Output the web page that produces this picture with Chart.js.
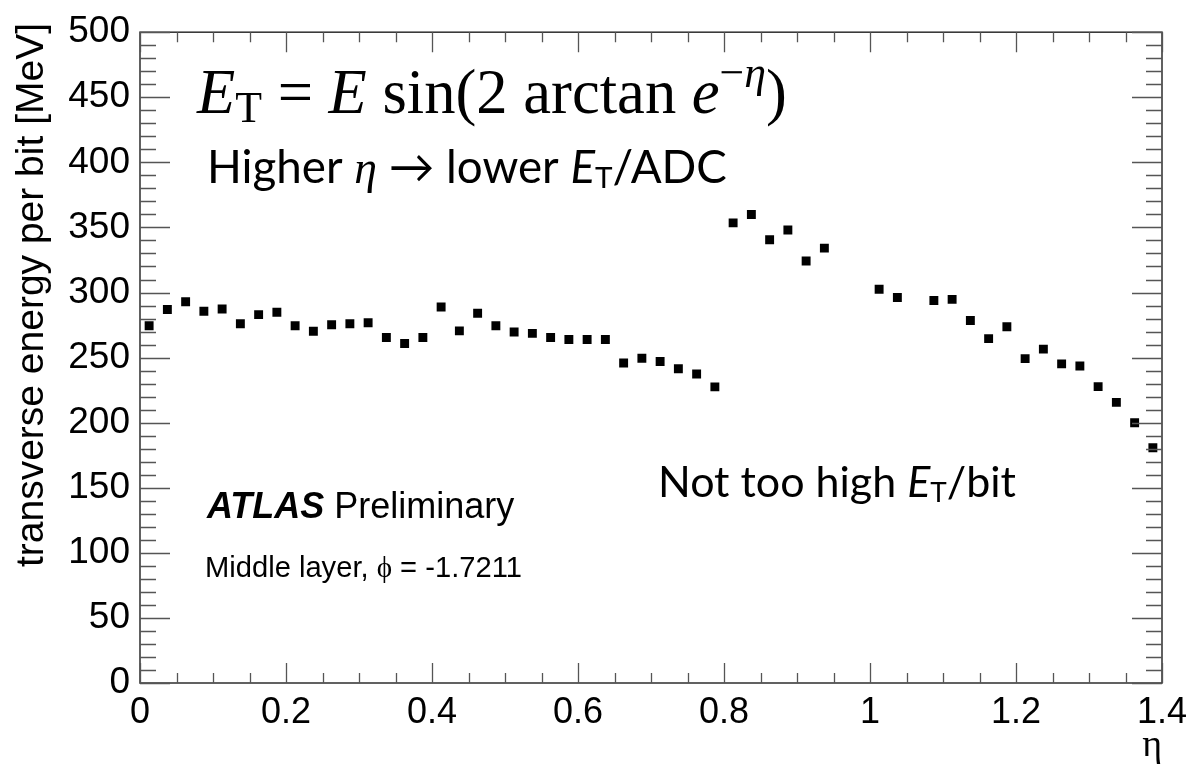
<!DOCTYPE html>
<html><head><meta charset="utf-8">
<script src="https://cdn.jsdelivr.net/npm/chart.js@4/dist/chart.umd.min.js"></script>
<style>html,body{margin:0;padding:0;background:#fff;}#wrap{width:1204px;height:771px;}</style>
</head><body><div id="wrap"><canvas id="c" width="1204" height="771"></canvas></div>
<script>
// ---- data ----
const etaBins = [0.0125,0.0375,0.0625,0.0875,0.1125,0.1375,0.1625,0.1875,0.2125,0.2375,0.2625,0.2875,0.3125,0.3375,0.3625,0.3875,0.4125,0.4375,0.4625,0.4875,0.5125,0.5375,0.5625,0.5875,0.6125,0.6375,0.6625,0.6875,0.7125,0.7375,0.7625,0.7875,0.8125,0.8375,0.8625,0.8875,0.9125,0.9375,1.0125,1.0375,1.0875,1.1125,1.1375,1.1625,1.1875,1.2125,1.2375,1.2625,1.2875,1.3125,1.3375,1.3625,1.3875];
const etPerBit = [274.5,287.0,292.9,285.6,287.3,276.0,283.0,284.8,274.5,270.2,275.2,276.0,276.8,265.4,260.8,265.4,288.9,270.5,284.1,274.5,269.7,268.6,265.4,263.9,263.9,263.9,245.9,249.5,247.0,241.4,237.4,227.5,353.5,359.9,340.6,348.0,324.2,334.1,302.5,296.2,293.9,294.7,278.5,264.6,273.7,249.2,256.5,245.2,243.6,227.7,215.6,200.0,180.8];
const xTickValues = [0,0.2,0.4,0.6,0.8,1.0,1.2,1.4];
const xTickLabels = ['0','0.2','0.4','0.6','0.8','1','1.2','1.4'];
const yTickValues = [0,50,100,150,200,250,300,350,400,450,500];
const yTickLabels = ['0','50','100','150','200','250','300','350','400','450','500'];
const yTitle = 'transverse energy per bit [MeV]';
const xTitle = 'η';

const SANS = '"Liberation Sans", Arial, sans-serif';
const SERIF = '"Liberation Serif", "Times New Roman", serif';
const CAL = 'Lato, "Open Sans", "DejaVu Sans", sans-serif';

function drawParts(ctx, x, base, parts, size, targetW) {
  const fontOf = (p, s) => (p.style || '') + ' ' + (s * (p.rel || 1)).toFixed(2) + 'px ' + p.fam;
  let s = size;
  if (targetW) {
    let w = 0;
    parts.forEach(p => { ctx.font = fontOf(p, s); w += ctx.measureText(p.t).width; });
    s = s * targetW / w;
  }
  let cx = x;
  ctx.textBaseline = 'alphabetic';
  ctx.textAlign = 'left';
  parts.forEach(p => {
    ctx.font = fontOf(p, s);
    ctx.fillText(p.t, cx, base + (p.dy || 0) * s);
    cx += ctx.measureText(p.t).width;
  });
}

const framePlugin = {
  id: 'rootFrame',
  afterDraw(chart) {
    const ctx = chart.ctx, a = chart.chartArea, xs = chart.scales.x, ys = chart.scales.y;
    ctx.save();
    ctx.strokeStyle = '#3a3a3a';
    ctx.lineWidth = 1.6;
    ctx.strokeRect(a.left, a.top, a.right - a.left, a.bottom - a.top);
    ctx.lineWidth = 1.3;
    ctx.strokeStyle = '#555';
    ctx.beginPath();
    for (let i = 0; i <= 28; i++) {
      const v = i * 0.05, px = Math.round(xs.getPixelForValue(v)) + 0.5;
      const L = (i % 4 === 0) ? 20 : 10;
      ctx.moveTo(px, a.bottom); ctx.lineTo(px, a.bottom - L);
      ctx.moveTo(px, a.top); ctx.lineTo(px, a.top + L);
    }
    for (let i = 0; i <= 50; i++) {
      const v = i * 10, py = Math.round(ys.getPixelForValue(v)) + 0.5;
      const L = (i % 5 === 0) ? 30 : 16;
      ctx.moveTo(a.left, py); ctx.lineTo(a.left + L, py);
      ctx.moveTo(a.right, py); ctx.lineTo(a.right - L, py);
    }
    ctx.stroke();

    ctx.fillStyle = '#000';
    ctx.save();
    ctx.translate(43, 23);
    ctx.rotate(-Math.PI / 2);
    ctx.font = '39px ' + SANS;
    ctx.textAlign = 'right';
    ctx.textBaseline = 'alphabetic';
    ctx.fillText(yTitle, 0, 0);
    ctx.restore();
    ctx.font = '38px ' + SERIF;
    ctx.textAlign = 'right';
    ctx.textBaseline = 'alphabetic';
    ctx.fillText(xTitle, a.right, 756);

    drawParts(ctx, 197, 113, [
      {t: 'E', style: 'italic', fam: SERIF},
      {t: 'T', fam: SERIF, rel: 0.7, dy: 0.15},
      {t: ' = ', fam: SERIF},
      {t: 'E', style: 'italic', fam: SERIF},
      {t: ' sin(2 arctan ', fam: SERIF},
      {t: 'e', style: 'italic', fam: SERIF},
      {t: '−', fam: SERIF, rel: 0.7, dy: -0.42},
      {t: 'η', style: 'italic', fam: SERIF, rel: 0.7, dy: -0.42},
      {t: ')', fam: SERIF}
    ], 50, 590);

    drawParts(ctx, 207, 183, [
      {t: 'Higher ', fam: CAL},
      {t: 'η', style: 'italic', fam: SERIF},
      {t: ' → lower ', fam: CAL},
      {t: 'E', style: 'italic', fam: CAL},
      {t: 'T', fam: CAL, rel: 0.65, dy: 0.12},
      {t: '/ADC', fam: CAL}
    ], 40, 520);

    drawParts(ctx, 658, 497, [
      {t: 'Not too high ', fam: CAL},
      {t: 'E', style: 'italic', fam: CAL},
      {t: 'T', fam: CAL, rel: 0.65, dy: 0.12},
      {t: '/bit', fam: CAL}
    ], 40, 358);

    drawParts(ctx, 207, 518, [
      {t: 'ATLAS', style: 'italic bold', fam: SANS},
      {t: ' Preliminary', fam: SANS}
    ], 36);

    drawParts(ctx, 205, 577, [
      {t: 'Middle layer, ', fam: SANS},
      {t: 'ϕ', fam: SERIF},
      {t: ' = -1.7211', fam: SANS}
    ], 28, 317);
    ctx.restore();
  }
};

new Chart(document.getElementById('c').getContext('2d'), {
  type: 'scatter',
  data: {
    datasets: [{
      data: etaBins.map((x, i) => ({x: x, y: etPerBit[i]})),
      pointStyle: 'rect',
      pointRadius: 6.3,
      pointHoverRadius: 6.3,
      backgroundColor: '#000',
      borderColor: '#000',
      borderWidth: 0,
      showLine: false
    }]
  },
  options: {
    responsive: false,
    animation: false,
    devicePixelRatio: 1,
    layout: {padding: {left: 0, right: 42, top: 23, bottom: 0}},
    plugins: {legend: {display: false}, tooltip: {enabled: false}},
    scales: {
      x: {
        type: 'linear', min: 0, max: 1.4,
        grid: {display: false, drawTicks: false},
        border: {display: false},
        afterBuildTicks: s => { s.ticks = xTickValues.map(v => ({value: v})); },
        afterFit: s => { s.height = 88; },
        ticks: {
          color: '#000', padding: 8, maxRotation: 0, autoSkip: false,
          font: {family: SANS, size: 36},
          callback: (v) => { const i = xTickValues.findIndex(t => Math.abs(t - v) < 1e-9); return i >= 0 ? xTickLabels[i] : ''; }
        }
      },
      y: {
        type: 'linear', min: 0, max: 500,
        grid: {display: false, drawTicks: false},
        border: {display: false},
        afterBuildTicks: s => { s.ticks = yTickValues.map(v => ({value: v})); },
        afterFit: s => { s.width = 140; },
        ticks: {
          color: '#000', padding: 10, autoSkip: false,
          font: {family: SANS, size: 37},
          callback: (v) => { const i = yTickValues.indexOf(v); return i >= 0 ? yTickLabels[i] : ''; }
        }
      }
    }
  },
  plugins: [framePlugin]
});
</script></body></html>
